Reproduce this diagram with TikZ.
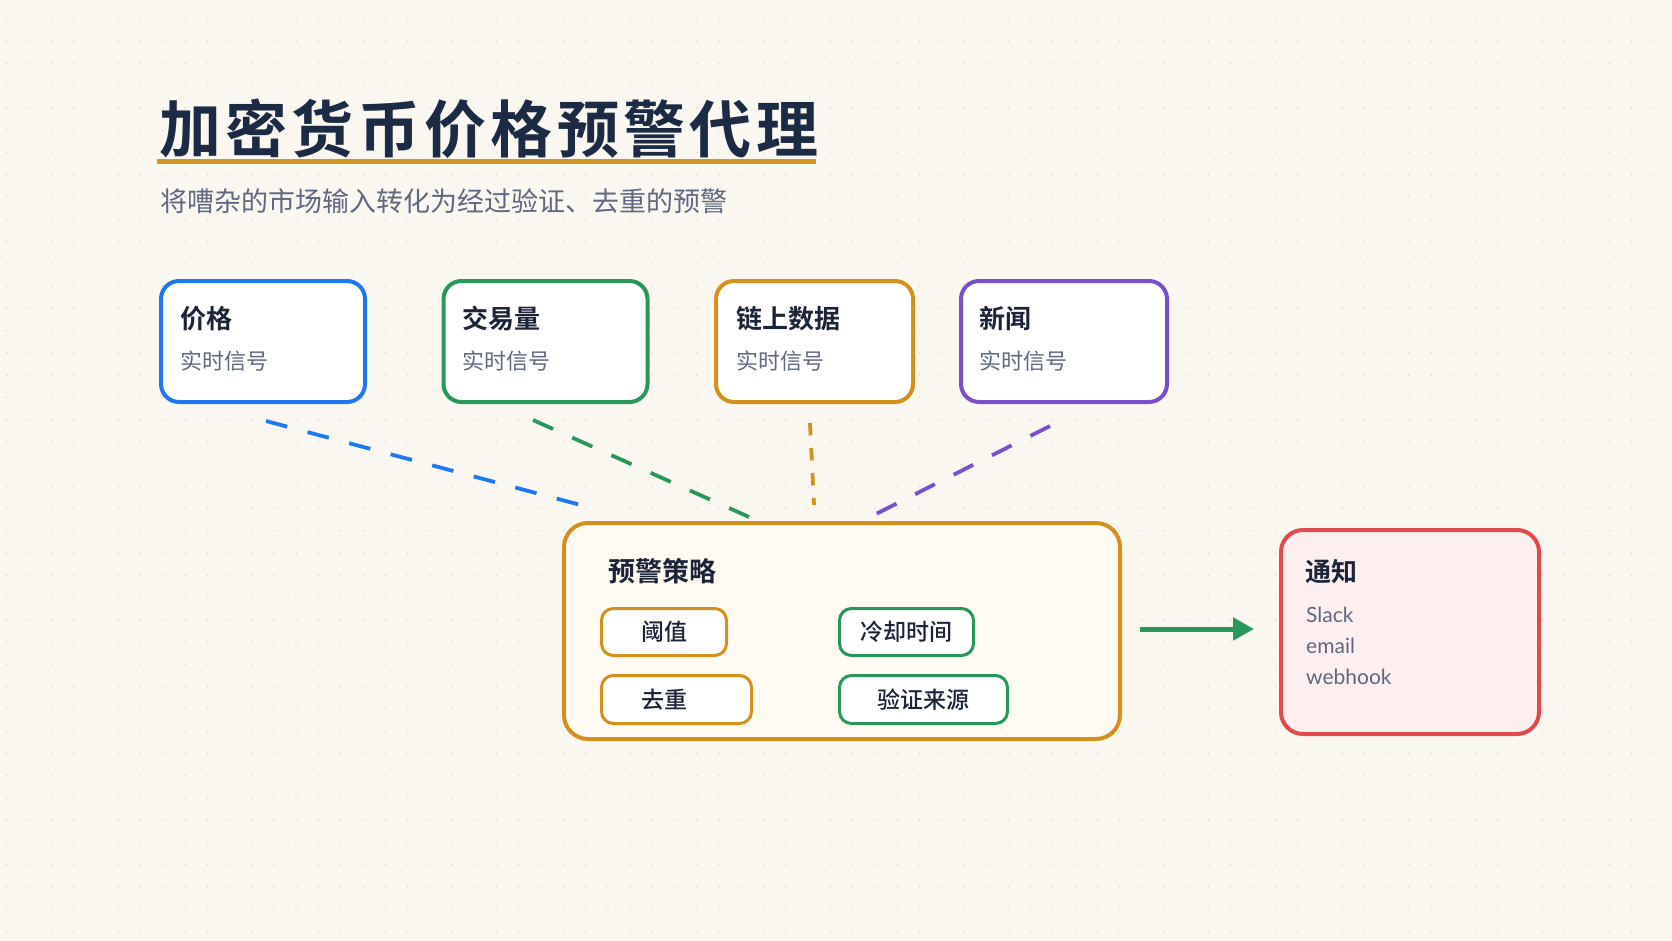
\documentclass[tikz,border=0pt]{standalone}
\usepackage{fontspec}
\setmainfont{Noto Sans CJK SC}[BoldFont={Noto Sans CJK SC Bold}]
\newfontfamily\titlefont{Noto Sans CJK SC Bold}[LetterSpace=7]
\newfontfamily\medfont{Noto Sans CJK SC Medium}
\newfontfamily\latinfont{Lato}
\usetikzlibrary{arrows.meta, positioning, calc}

\definecolor{paper}{HTML}{FAF7F1}
\definecolor{dotc}{HTML}{E6DED2}
\definecolor{ink}{HTML}{1B2438}
\definecolor{navy}{HTML}{1B2A45}
\definecolor{slate}{HTML}{5E6880}
\definecolor{gold}{HTML}{D6951E}
\definecolor{cblue}{HTML}{1E78F0}
\definecolor{cgreen}{HTML}{27975A}
\definecolor{corange}{HTML}{D4901C}
\definecolor{cpurple}{HTML}{7A4FCF}
\definecolor{cred}{HTML}{E04A4C}
\definecolor{pinkfill}{HTML}{FDEFEF}
\definecolor{creamfill}{HTML}{FFFAF2}

\tikzset{
    base/.style={draw, line width=4pt, rounded corners=18pt, fill=white, inner sep=0pt},
    source/.style={base, minimum width=204pt, minimum height=121pt},
    panel/.style={base, rounded corners=24pt},
    chip/.style={draw, line width=3pt, rounded corners=12pt, fill=white, inner sep=0pt,
        minimum height=47pt, text=ink, font=\medfont\fontsize{23}{23}\selectfont},
    head/.style={anchor=west, inner sep=0pt, text=ink, font=\bfseries\fontsize{26}{26}\selectfont},
    sub/.style={anchor=west, inner sep=0pt, text=slate, font=\fontsize{22}{22}\selectfont},
    channel/.style={anchor=base west, inner sep=0pt, text=slate, font=\latinfont\fontsize{21}{21}\selectfont},
    feed/.style={line width=3.8pt, dash pattern=on 22pt off 21pt},
    arrow/.style={-{Triangle[length=21pt, width=22pt]}, line width=5pt, draw=cgreen}
}

\begin{document}
\begin{tikzpicture}[x=1pt, y=-1pt]
    \useasboundingbox (0,0) rectangle (1672,941);
    \fill[paper] (0,0) rectangle (1672,941);
    \foreach \i in {0,...,75}
        \foreach \j in {0,...,42}
            \fill[dotc] (7+22.25*\i, 19+22.25*\j) circle (1pt);

    % title
    \node (title) [anchor=west, inner sep=0pt, text=navy, font=\titlefont\fontsize{62}{62}\selectfont] at (159,129) {加密货币价格预警代理};
    \draw [gold, line width=5pt] (157,161.5) -- (816,161.5);
    \node (subtitle) [anchor=west, inner sep=0pt, text=slate, font=\fontsize{27}{27}\selectfont] at (160,201) {将嘈杂的市场输入转化为经过验证、去重的预警};

    % sources
    \node (price) [source, draw=cblue] at (263,341.5) {};
    \node (volume) [source, draw=cgreen] at (545.5,341.5) {};
    \node (chain) [source, draw=corange, minimum width=197pt] at (814.5,341.5) {};
    \node (news) [source, draw=cpurple, minimum width=206pt] at (1064,341.5) {};

    \node [head] at ([xshift=21pt, yshift=23pt]price.west) {价格};
    \node [sub] at ([xshift=21pt, yshift=-19.5pt]price.west) {实时信号};
    \node [head] at ([xshift=21pt, yshift=23pt]volume.west) {交易量};
    \node [sub] at ([xshift=21pt, yshift=-19.5pt]volume.west) {实时信号};
    \node [head] at ([xshift=22pt, yshift=23pt]chain.west) {链上数据};
    \node [sub] at ([xshift=22pt, yshift=-19.5pt]chain.west) {实时信号};
    \node [head] at ([xshift=20pt, yshift=23pt]news.west) {新闻};
    \node [sub] at ([xshift=20pt, yshift=-19.5pt]news.west) {实时信号};

    % alert policy
    \node (policy) [panel, draw=corange, fill=creamfill, minimum width=556pt, minimum height=216pt] at (842,631) {};
    \node [head, font=\bfseries\fontsize{27}{27}\selectfont] at ([xshift=46pt, yshift=60pt]policy.west) {预警策略};
    \node (thr) [chip, draw=corange, minimum width=125pt] at (664,632) {阈值};
    \node (dedup) [chip, draw=corange, minimum width=150pt, minimum height=48pt, text width=71pt, align=left] at (676.5,699.5) {去重};
    \node (cool) [chip, draw=cgreen, minimum width=134pt] at (906.5,632) {冷却时间};
    \node (verify) [chip, draw=cgreen, minimum width=168pt, minimum height=48pt] at (923.5,699.5) {验证来源};

    % notification
    \node (notify) [panel, rounded corners=22pt, draw=cred, fill=pinkfill, minimum width=258pt, minimum height=204pt] at (1410,632) {};
    \node [head] at ([xshift=26pt, yshift=60pt]notify.west) {通知};
    \node [channel] at ([xshift=27pt, yshift=10pt]notify.west) {Slack};
    \node [channel] at ([xshift=27pt, yshift=-21pt]notify.west) {email};
    \node [channel] at ([xshift=27pt, yshift=-52pt]notify.west) {webhook};

    % links
    \draw [feed, cblue] ([xshift=3pt, yshift=-17pt]price.south) -- ([xshift=-250pt, yshift=13pt]policy.north);
    \draw [feed, cgreen] ([xshift=-12.5pt, yshift=-16pt]volume.south) -- ([xshift=-93pt, yshift=4pt]policy.north);
    \draw [feed, corange, dash pattern=on 12.5pt off 12.5pt] ([xshift=-4.5pt, yshift=-19pt]chain.south) -- ([xshift=-28pt, yshift=16pt]policy.north);
    \draw [feed, cpurple] ([xshift=-14pt, yshift=-22pt]news.south) -- ([xshift=32pt, yshift=6pt]policy.north);
    \draw [arrow, shorten <=18pt, shorten >=25pt] ([yshift=2pt]policy.east) -- ([yshift=2pt]policy.east -| notify.west);
\end{tikzpicture}
\end{document}
